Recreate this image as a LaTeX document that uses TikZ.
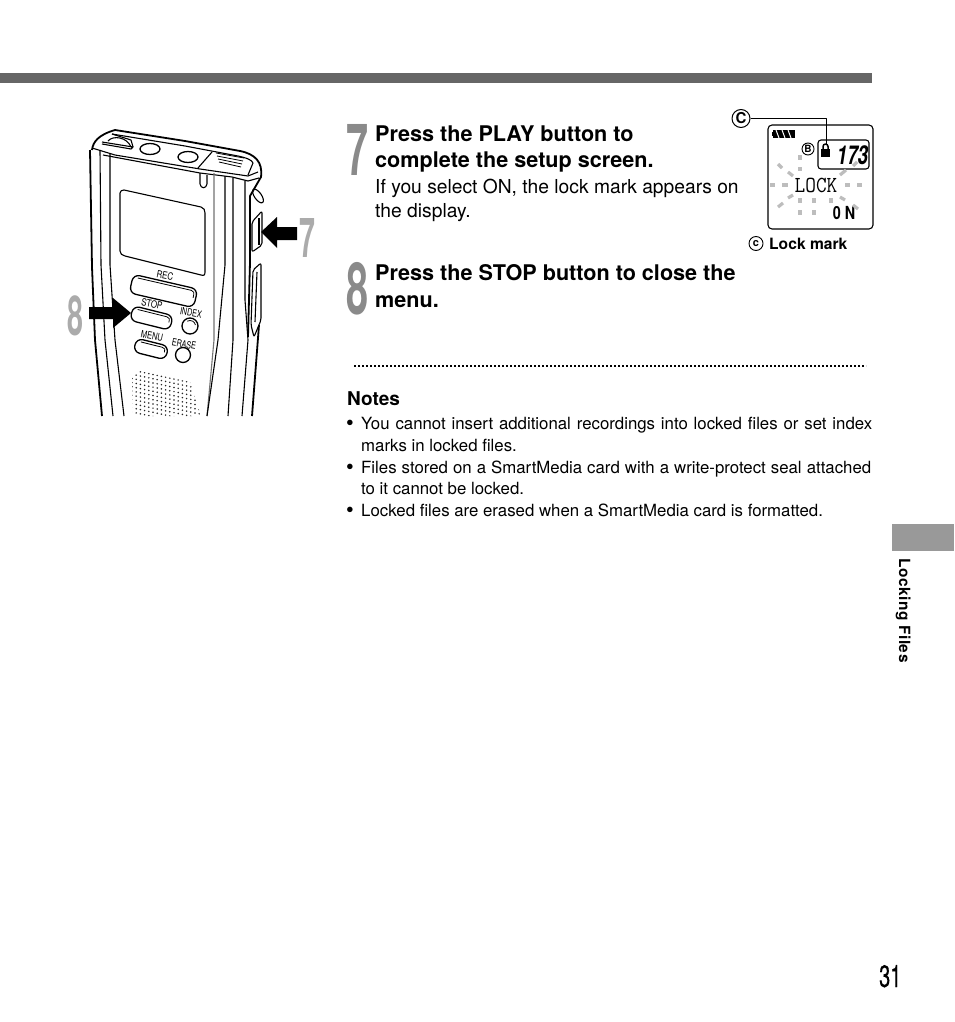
\documentclass[tikz,border=0pt]{standalone}
\usepackage{fontspec}
\setmainfont{TeX Gyre Heros}
\usetikzlibrary{positioning}
\definecolor{barcol}{HTML}{666666}
\definecolor{tabcol}{HTML}{999999}
\definecolor{stepcol}{HTML}{8A8A8A}
\definecolor{lightstep}{HTML}{ABABAB}
\definecolor{raycol}{HTML}{BDBDBD}
\newcommand{\fsz}[1]{\fontsize{#1}{#1}\selectfont}
\newcommand{\narrow}[2]{\scalebox{#1}[1]{#2}}
\tikzset{
	head/.style={anchor=base west, inner sep=0pt, font=\fsz{21.6}\bfseries},
	plain/.style={anchor=base west, inner sep=0pt, font=\fsz{19.25}},
	note/.style={anchor=base west, inner sep=0pt, font=\fsz{16.8}},
	dotmark/.style={anchor=base west, inner sep=0pt, font=\fsz{22}},
	keylabel/.style={inner sep=0pt, font=\fsz{10}},
	bigstep/.style={anchor=base west, inner sep=0pt, font=\fsz{72}\bfseries, text=stepcol},
	smallstep/.style={anchor=base west, inner sep=0pt, font=\fsz{55}\bfseries, text=lightstep},
	body/.style={line width=1.8pt, black},
	edge/.style={line width=1.1pt, black},
	key/.style={draw=black, line width=1.3pt, fill=white, rounded corners=6.5pt, inner sep=0pt},
	roundkey/.style={draw=black, line width=1.3pt, fill=white, circle, inner sep=0pt},
	ray/.style={raycol, line width=3.2pt}
}
\begin{document}
\begin{tikzpicture}[x=1pt, y=-1pt, line join=round]
	\useasboundingbox (0,0) rectangle (954,1022);
	\fill[white] (0,0) rectangle (954,1022);

	% page furniture
	\fill[barcol] (0,73) rectangle (872,83);
	\fill[tabcol] (892,524) rectangle (954,551);
	\node[anchor=base west, inner sep=0pt, rotate=-90, font=\fsz{15.4}\bfseries] (tabtext) at (899,558) {\addfontfeature{LetterSpace=3.5}Locking Files};
	\node[anchor=base west, inner sep=0pt, font=\fsz{31}] (pagenum) at (879,987) {\narrow{.64}{\addfontfeature{FakeBold=0.6}31}};

	% recorder outline
	\draw[body] (92,150) .. controls (93,142) and (98,135) .. (115,130) -- (185,141) -- (240,151) .. controls (255,154) and (263,162) .. (261,177) -- (250,196) -- (250,262) -- (248,337);
	\draw[body] (90,150) -- (92,267) -- (95,340) -- (102,416);
	\draw[body] (259,325) -- (252,416);
	\draw[edge] (112,134) -- (185,146) -- (238,156) .. controls (247,158) and (252,160) .. (253,163) -- (248,175);
	\draw[edge] (92,148) -- (115,155) -- (200,169) -- (248,176) -- (258,172);
	\draw[edge] (103,155) -- (200,173) -- (232,177) -- (248,181) -- (259,178);
	\draw[edge] (100,150) -- (101,265) -- (105,340) -- (113,416);
	\draw[edge] (110,153) -- (110,265) -- (115,340) -- (124,416);
	\draw[edge, black!55] (214,173) -- (214,265) -- (214,340) -- (207,416);
	\draw[edge] (225,176) -- (225,265) -- (218,340) -- (207,416);
	\draw[edge] (233,178) -- (233,340) -- (228,416);
	\draw[edge] (245,181) -- (245,300) -- (248,340) -- (242,416);

	% top of the recorder
	\draw[edge] (102,142) -- (133,147) -- (131,149) -- (102,144);
	\draw[edge] (108,141) .. controls (113,135) and (127,137) .. (131,147);
	\draw[edge] (112,134) -- (131,140) -- (133,147);
	\draw[body, line width=1.3pt] (150,149) ellipse [x radius=10pt, y radius=5.5pt];
	\draw[body, line width=1.3pt] (188,157) ellipse [x radius=10pt, y radius=5.5pt];
	\draw[edge] (198,168) -- (212,152);
	\foreach \i in {0,1,2,3} {
		\draw[edge, line width=.8pt] (216+\i,153+3*\i) -- (244-\i,158+3*\i);
	}
	\draw[edge] (200,173) -- (200,184) .. controls (201,189) and (206,189) .. (207,184) -- (207,175);

	% screen
	\draw[edge] (124,190) -- (201,207) .. controls (204,208) and (205,210) .. (205,213) -- (205,272) .. controls (205,275) and (204,276) .. (201,275) -- (125,256) .. controls (122,255) and (120,254) .. (120,251) -- (120,193) .. controls (120,191) and (122,190) .. (124,190);

	% side keys
	\draw[edge, rotate around={-55:(258,196)}] (258,196) ellipse [x radius=8pt, y radius=3.5pt];
	\draw[edge, fill=white, rounded corners=2pt] (252,222) -- (262,211) -- (262,245) -- (252,252) -- cycle;
	\draw[edge] (259,218) -- (259,245);
	\draw[edge, rounded corners=2pt] (261,263) -- (253,270) -- (251,325) -- (254,337) -- (261,320) -- cycle;
	\draw[edge] (257,272) -- (255,322);

	% front keys
	\node[key, rotate=-13, minimum width=66pt, minimum height=19pt] (reckey) at (163.5,291) {};
	\node[key, rotate=-14, minimum width=41pt, minimum height=15pt] (stopkey) at (151.5,318) {};
	\node[key, rotate=-14, minimum width=33pt, minimum height=14pt] (menukey) at (151,349) {};
	\node[roundkey, minimum size=16pt] (indexkey) at (190,326) {};
	\node[roundkey, minimum size=15pt] (erasekey) at (183,355) {};
	\foreach \nm/\ang/\hw/\hh in {reckey/13/33/9.5, stopkey/14/20.5/7.5, menukey/14/16.5/7} {
		\draw[edge, line width=.8pt, shift={(\nm.center)}, rotate=-\ang] (-\hw+5,-\hh+2.6) -- (\hw-6,-\hh+2.6) .. controls (\hw-3,-\hh+2.6) and (\hw-2.6,-\hh+4) .. (\hw-2.6,0);
	}
	\draw[edge, line width=.8pt] (187.25,321.2) arc [start angle=120, end angle=10, radius=5.5pt];
	\node[keylabel, rotate=-11] (reclabel) at (165,275.5) {\narrow{.8}{REC}};
	\node[keylabel, rotate=-11] (stoplabel) at (152,304) {\narrow{.8}{STOP}};
	\node[keylabel, rotate=-11] (indexlabel) at (191,313) {\narrow{.72}{INDEX}};
	\node[keylabel, rotate=-11] (menulabel) at (152,336) {\narrow{.75}{MENU}};
	\node[keylabel, rotate=-11] (eraselabel) at (184,344) {\narrow{.72}{ERASE}};

	% speaker holes
	\begin{scope}
		\clip (140,371) -- (190,382) -- (201,416) -- (133,416) -- (132,378) -- cycle;
		\foreach \i in {0,...,17} {
			\foreach \j in {0,...,12} {
				\fill[black!85] (132+4.2*\i,370+4.2*\j+0.9*\i) circle [radius=.85pt];
			}
		}
	\end{scope}

	% arrows and step numbers by the recorder
	\fill[black] (261,232) -- (277,217) -- (277,227) -- (297,227) -- (297,240) -- (277,240) -- (277,248) -- cycle;
	\fill[black] (131,313) -- (113,298) -- (113,307) -- (89,307) -- (89,319) -- (113,319) -- (113,328) -- cycle;
	\node[smallstep] (seven) at (299,257) {\narrow{.52}{7}};
	\node[smallstep] (eight) at (67,335) {\narrow{.52}{8}};

	% steps
	\node[bigstep] (stepA) at (346,175) {\narrow{.55}{7}};
	\node[bigstep] (stepB) at (346.5,314.5) {\narrow{.55}{8}};
	\node[head] (playa) at (375,141) {Press the PLAY button to};
	\node[head] (playb) at (375,167) {complete the setup screen.};
	\node[plain] (sela) at (375,193) {If you select ON, the lock mark appears on};
	\node[plain] (selb) at (375,217) {the display.};
	\node[head] (stopa) at (375,280) {Press the STOP button to close the};
	\node[head] (stopb) at (375,307) {menu.};

	% display
	\draw[edge, rounded corners=4pt] (768,125) rectangle (873,229);
	\draw[edge, rounded corners=3pt] (818,140) rectangle (869,169);
	\node[circle, draw, line width=1pt, inner sep=0pt, minimum size=18pt, font=\fsz{15}\bfseries] (markC) at (741,118.5) {C};
	\node[circle, draw, line width=.9pt, inner sep=0pt, minimum size=12pt, font=\fsz{10}\bfseries] (markB) at (808,149) {B};
	\coordinate (lockpt) at (826,144);
	\draw[line width=1pt] (markC) -| (lockpt);
	\fill[black] (821,149) rectangle (830,157);
	\draw[line width=1.5pt] (823,149) -- (823,146.5) arc [start angle=180, end angle=0, radius=2.5pt] -- (828,149);
	\fill[black] (773,130) rectangle (795,138);
	\fill[black] (771.5,132) rectangle (773,136);
	\foreach \i in {0,1,2} {
		\draw[white, line width=1pt] (776+6*\i,130) -- (779+6*\i,138);
	}
	\node[inner sep=0pt, font=\fsz{26}\itshape\bfseries] (counter) at (852.5,155) {\narrow{.72}{173}};
	\node[inner sep=0pt, font=\fsz{23}\ttfamily] (locktext) at (816,185) {\narrow{.9}{LOCK}};
	\node[inner sep=0pt, font=\fsz{18}\bfseries] (ontext) at (844,213.5) {\narrow{.8}{0 N}};
	\foreach \a/\b/\c/\d in {770/185/775/185, 782/185/788/185, 845/185/850/185, 857/185/862/185,
		778/164/782/168, 788/172/793/176, 840/175/846/170, 853/166/857/162,
		800/155/800/160, 800/167/800/171,
		778/207/783/203, 788/198/793/195, 840/197/845/200, 853/205/858/209,
		800/198/800/203, 800/210/800/215, 814/198/814/203, 814/210/814/215, 831/198/831/203} {
		\draw[ray] (\a,\b) -- (\c,\d);
	}
	\node[circle, draw, line width=.9pt, inner sep=0pt, minimum size=14pt, font=\fsz{11}\bfseries] (markc) at (756,243.5) {c};
	\node[anchor=base west, inner sep=0pt, font=\fsz{15.6}\bfseries] (lockcap) at (769,249) {Lock mark};

	% notes
	\coordinate (dotsa) at (354,366);
	\coordinate (dotsb) at (866,366);
	\draw[line width=1.6pt, dash pattern=on 1.6pt off 2.4pt] (dotsa) -- (dotsb);
	\node[anchor=base west, inner sep=0pt, font=\fsz{19}\bfseries] (notes) at (347,405) {Notes};
	\node[dotmark] (bulleta) at (346,430) {•};
	\node[note] (lineaa) at (361,429) {\makebox[511pt][s]{You cannot insert additional recordings into locked files or set index}};
	\node[note] (lineab) at (361,451) {marks in locked files.};
	\node[dotmark] (bulletb) at (346,474) {•};
	\node[note] (lineba) at (361,473) {\makebox[510pt][s]{Files stored on a SmartMedia card with a write-protect seal attached}};
	\node[note] (linebb) at (361,494) {to it cannot be locked.};
	\node[dotmark] (bulletc) at (346,517) {•};
	\node[note] (lineca) at (361,516) {Locked files are erased when a SmartMedia card is formatted.};
\end{tikzpicture}
\end{document}
